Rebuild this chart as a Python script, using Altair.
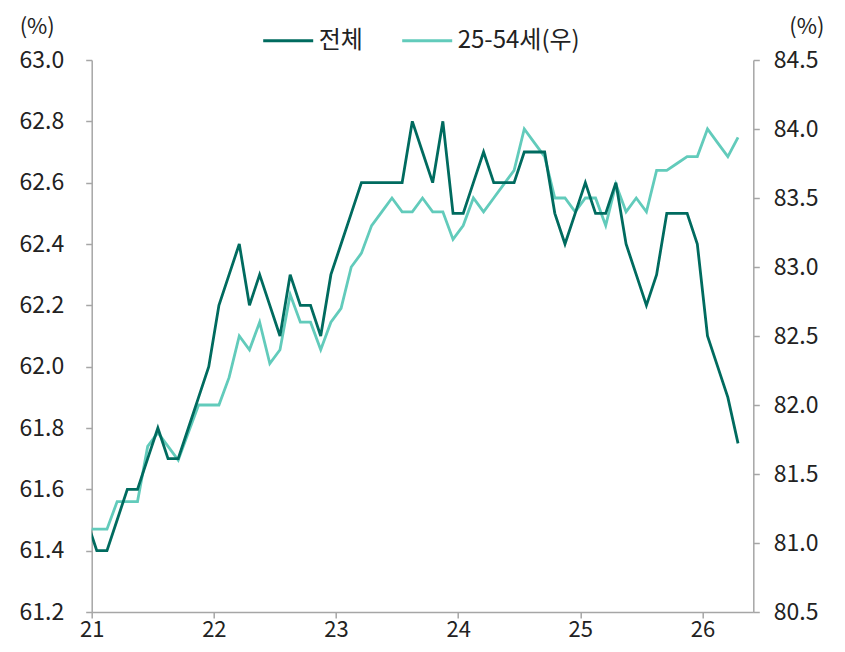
import altair as alt
import pandas as pd

# month index: -1 = 2020-12, 0 = 2021-01 ... 63 = 2026-04
month_idx = list(range(-1, 64))
total = [61.5,
         61.4, 61.4, 61.5, 61.6, 61.6, 61.7, 61.8, 61.7, 61.7, 61.8, 61.9, 62.0,
         62.2, 62.3, 62.4, 62.2, 62.3, 62.2, 62.1, 62.3, 62.2, 62.2, 62.1, 62.3,
         62.4, 62.5, 62.6, 62.6, 62.6, 62.6, 62.6, 62.8, 62.7, 62.6, 62.8, 62.5,
         62.5, 62.6, 62.7, 62.6, 62.6, 62.6, 62.7, 62.7, 62.7, 62.5, 62.4, 62.5,
         62.6, 62.5, 62.5, 62.6, 62.4, 62.3, 62.2, 62.3, 62.5, 62.5, 62.5, 62.4,
         62.1, 62.0, 61.9, 61.75]
prime = [81.1,
         81.1, 81.1, 81.3, 81.3, 81.3, 81.7, 81.8, 81.7, 81.6, 81.8, 82.0, 82.0,
         82.0, 82.2, 82.5, 82.4, 82.6, 82.3, 82.4, 82.8, 82.6, 82.6, 82.4, 82.6,
         82.7, 83.0, 83.1, 83.3, 83.4, 83.5, 83.4, 83.4, 83.5, 83.4, 83.4, 83.2,
         83.3, 83.5, 83.4, 83.5, 83.6, 83.7, 84.0, 83.9, 83.8, 83.5, 83.5, 83.4,
         83.5, 83.5, 83.3, 83.6, 83.4, 83.5, 83.4, 83.7, 83.7, 83.75, 83.8, 83.8,
         84.0, 83.9, 83.8, 83.94]
series_names = ["전체", "25-54세(우)"]
series_colors = ["#006b5f", "#62cbbb"]
year_ticks = [0, 12, 24, 36, 48, 60]
left_ticks = [61.2, 61.4, 61.6, 61.8, 62.0, 62.2, 62.4, 62.6, 62.8, 63.0]
right_ticks = [80.5, 81.0, 81.5, 82.0, 82.5, 83.0, 83.5, 84.0, 84.5]

df = pd.DataFrame({
    "pos": [m + 0.5 for m in month_idx] * 2,
    "value": total + prime,
    "series": [series_names[0]] * len(total) + [series_names[1]] * len(prime),
})

FONT = "Noto Sans CJK KR"
FS = 23
TXT = "#222222"
AX = "#a6a6a6"

color = alt.Color(
    "series:N",
    scale=alt.Scale(domain=series_names, range=series_colors),
    legend=alt.Legend(
        title=None, orient="none", direction="horizontal",
        legendX=170, legendY=-46,
        symbolType="stroke", symbolSize=2500, symbolStrokeWidth=3,
        labelFont=FONT, labelFontSize=24, labelColor=TXT,
        labelOffset=4, columnPadding=32,
    ),
)

x_enc = alt.X(
    "pos:Q",
    scale=alt.Scale(domain=[0, 65], nice=False, zero=False),
    axis=alt.Axis(
        values=year_ticks, labelExpr="format(datum.value/12 + 21, 'd')",
        title=None, grid=False, tickSize=6, labelPadding=1, labelFlush=False,
        labelFont=FONT, labelFontSize=22, labelColor=TXT,
        domainColor=AX, tickColor=AX, domainWidth=1.5, tickWidth=1.5,
    ),
)

left = alt.Chart(df).transform_filter(
    alt.datum.series == series_names[0]
).mark_line(strokeWidth=2.8, clip=True).encode(
    x=x_enc,
    y=alt.Y(
        "value:Q",
        scale=alt.Scale(domain=[61.2, 63.0], nice=False, zero=False),
        axis=alt.Axis(
            values=left_ticks, format=".1f", grid=False, orient="left",
            title="(%)", titleAngle=0, titleX=-55, titleY=-34,
            titleAlign="center", titleBaseline="middle",
            titleFont=FONT, titleFontSize=22, titleFontWeight="normal", titleColor=TXT,
            tickSize=6, labelPadding=22,
            labelFont=FONT, labelFontSize=FS, labelColor=TXT,
            domainColor=AX, tickColor=AX, domainWidth=1.5, tickWidth=1.5,
        ),
    ),
    color=color,
    order="pos:Q",
)

right = alt.Chart(df).transform_filter(
    alt.datum.series == series_names[1]
).mark_line(strokeWidth=2.8, clip=True).encode(
    x=x_enc,
    y=alt.Y(
        "value:Q",
        scale=alt.Scale(domain=[80.5, 84.5], nice=False, zero=False),
        axis=alt.Axis(
            values=right_ticks, format=".1f", grid=False, orient="right",
            title="(%)", titleAngle=0, titleX=53, titleY=-34,
            titleAlign="center", titleBaseline="middle",
            titleFont=FONT, titleFontSize=22, titleFontWeight="normal", titleColor=TXT,
            tickSize=6, labelPadding=14,
            labelFont=FONT, labelFontSize=FS, labelColor=TXT,
            domainColor=AX, tickColor=AX, domainWidth=1.5, tickWidth=1.5,
        ),
    ),
    color=color,
    order="pos:Q",
)

chart = alt.layer(right, left).resolve_scale(y="independent").properties(
    width=661.6, height=552,
    autosize=alt.AutoSizeParams(type="none"),
    padding={"left": 83.7, "top": 52, "right": 83.7, "bottom": 32},
    background="white",
).configure_view(stroke=None)

chart.save("out.html", embed_options={"renderer": "svg", "actions": False})
